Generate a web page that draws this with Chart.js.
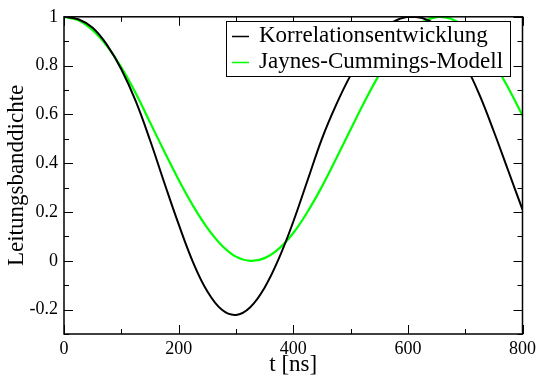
<!DOCTYPE html>
<html>
<head>
<meta charset="utf-8">
<script src="https://cdn.jsdelivr.net/npm/chart.js@4.4.0/dist/chart.umd.min.js"></script>
<style>
    html, body { margin: 0; padding: 0; background: #fff; }
    #wrap { width: 540px; height: 379px; position: relative; }
</style>
</head>
<body>
<div id="wrap"><canvas id="chart" width="540" height="379"></canvas></div>
<script>
// time axis in ns
const times = [0, 25, 50, 75, 100, 125, 150, 175, 200, 225, 250, 275, 300, 325, 350, 375, 400,
               425, 450, 475, 500, 525, 550, 575, 600, 625, 650, 675, 700, 725, 750, 775, 800];

const korrelation = [1.0, 0.99, 0.955, 0.885, 0.785, 0.655, 0.495, 0.32, 0.15, -0.005, -0.125, -0.2, -0.222,
                     -0.19, -0.11, 0.01, 0.16, 0.33, 0.50, 0.64, 0.76, 0.855, 0.93, 0.98, 1.0,
                     0.995, 0.965, 0.90, 0.805, 0.68, 0.53, 0.37, 0.21];

const jaynesCummings = [1.0, 0.986, 0.945, 0.88, 0.793, 0.688, 0.568, 0.448, 0.332, 0.226, 0.135, 0.064, 0.017,
                        0.0, 0.011, 0.05, 0.114, 0.201, 0.304, 0.419, 0.538, 0.655, 0.763, 0.857, 0.93,
                        0.978, 0.999, 0.992, 0.956, 0.895, 0.811, 0.709, 0.595];

const seriesLabels = ['Korrelationsentwicklung', 'Jaynes-Cummings-Modell'];
const seriesColors = ['#000000', '#00ff00'];

const yMajor = [-0.2, 0, 0.2, 0.4, 0.6, 0.8, 1];
const yMinor = [-0.3, -0.1, 0.1, 0.3, 0.5, 0.7, 0.9];
const xMajor = [0, 200, 400, 600, 800];
const xMinor = [100, 300, 500, 700];

const serif = '"Liberation Serif", "DejaVu Serif", serif';

const toPoints = (ys) => times.map((t, i) => ({ x: t, y: ys[i] }));

// frame, inward ticks, axis titles and the boxed legend
const frame = {
    id: 'frame',
    afterDraw(chart) {
        const ctx = chart.ctx;
        const a = chart.chartArea;
        const xs = chart.scales.x, ys = chart.scales.y;
        ctx.save();
        ctx.strokeStyle = '#000';
        ctx.lineWidth = 1.5;
        ctx.strokeRect(a.left, a.top, a.right - a.left, a.bottom - a.top);

        ctx.lineWidth = 1;
        ctx.beginPath();
        const tickX = (v, len) => {
            const px = Math.round(xs.getPixelForValue(v)) + 0.5;
            ctx.moveTo(px, a.bottom); ctx.lineTo(px, a.bottom - len);
            ctx.moveTo(px, a.top); ctx.lineTo(px, a.top + len);
        };
        const tickY = (v, len) => {
            const py = Math.round(ys.getPixelForValue(v)) + 0.5;
            ctx.moveTo(a.left, py); ctx.lineTo(a.left + len, py);
            ctx.moveTo(a.right, py); ctx.lineTo(a.right - len, py);
        };
        xMajor.forEach(v => tickX(v, 9));
        xMinor.forEach(v => tickX(v, 5));
        yMajor.forEach(v => tickY(v, 9));
        yMinor.forEach(v => tickY(v, 5));
        ctx.stroke();

        // axis titles
        ctx.fillStyle = '#000';
        ctx.font = '23px ' + serif;
        ctx.textAlign = 'center';
        ctx.textBaseline = 'middle';
        ctx.fillText('t [ns]', (a.left + a.right) / 2, 365);
        ctx.save();
        ctx.translate(17, (a.top + a.bottom) / 2);
        ctx.rotate(-Math.PI / 2);
        ctx.fillText('Leitungsbanddichte', 0, 0);
        ctx.restore();

        // legend
        const lx = 226, ly = 21, lw = 284, lh = 55;
        ctx.fillStyle = '#fff';
        ctx.fillRect(lx, ly, lw, lh);
        ctx.strokeStyle = '#000';
        ctx.lineWidth = 1;
        ctx.strokeRect(lx + 0.5, ly + 0.5, lw, lh);
        ctx.font = '23px ' + serif;
        ctx.textAlign = 'left';
        seriesLabels.forEach((label, i) => {
            const cy = ly + 15 + i * 26;
            ctx.strokeStyle = seriesColors[i];
            ctx.lineWidth = 1.5;
            ctx.beginPath();
            ctx.moveTo(lx + 6, cy + 0.5);
            ctx.lineTo(lx + 23, cy + 0.5);
            ctx.stroke();
            ctx.fillStyle = '#000';
            ctx.fillText(label, lx + 33, cy);
        });
        ctx.restore();
    }
};

new Chart(document.getElementById('chart'), {
    type: 'line',
    data: {
        datasets: [
            {
                label: seriesLabels[0],
                data: toPoints(korrelation),
                borderColor: seriesColors[0],
                borderWidth: 2,
                pointRadius: 0,
                tension: 0.4,
                fill: false
            },
            {
                label: seriesLabels[1],
                data: toPoints(jaynesCummings),
                borderColor: seriesColors[1],
                borderWidth: 2.2,
                pointRadius: 0,
                tension: 0.4,
                fill: false
            }
        ]
    },
    options: {
        responsive: false,
        animation: false,
        layout: { padding: { top: 12, right: 15, left: 0, bottom: 0 } },
        plugins: { legend: { display: false }, tooltip: { enabled: false } },
        scales: {
            x: {
                type: 'linear',
                min: 0,
                max: 800,
                grid: { display: false, drawTicks: false },
                border: { display: false },
                afterFit: s => { s.height = 45; },
                afterBuildTicks: s => { s.ticks = xMajor.map(v => ({ value: v })); },
                ticks: {
                    color: '#000',
                    padding: 4,
                    maxRotation: 0,
                    font: { family: serif, size: 18 },
                    callback: v => String(v)
                }
            },
            y: {
                min: -0.3,
                max: 1,
                grid: { display: false, drawTicks: false },
                border: { display: false },
                afterFit: s => { s.width = 64; },
                afterBuildTicks: s => { s.ticks = yMajor.map(v => ({ value: v })); },
                ticks: {
                    color: '#000',
                    padding: 6,
                    font: { family: serif, size: 18 },
                    callback: v => String(Number(v.toFixed(1)))
                }
            }
        }
    },
    plugins: [frame]
});
</script>
</body>
</html>
